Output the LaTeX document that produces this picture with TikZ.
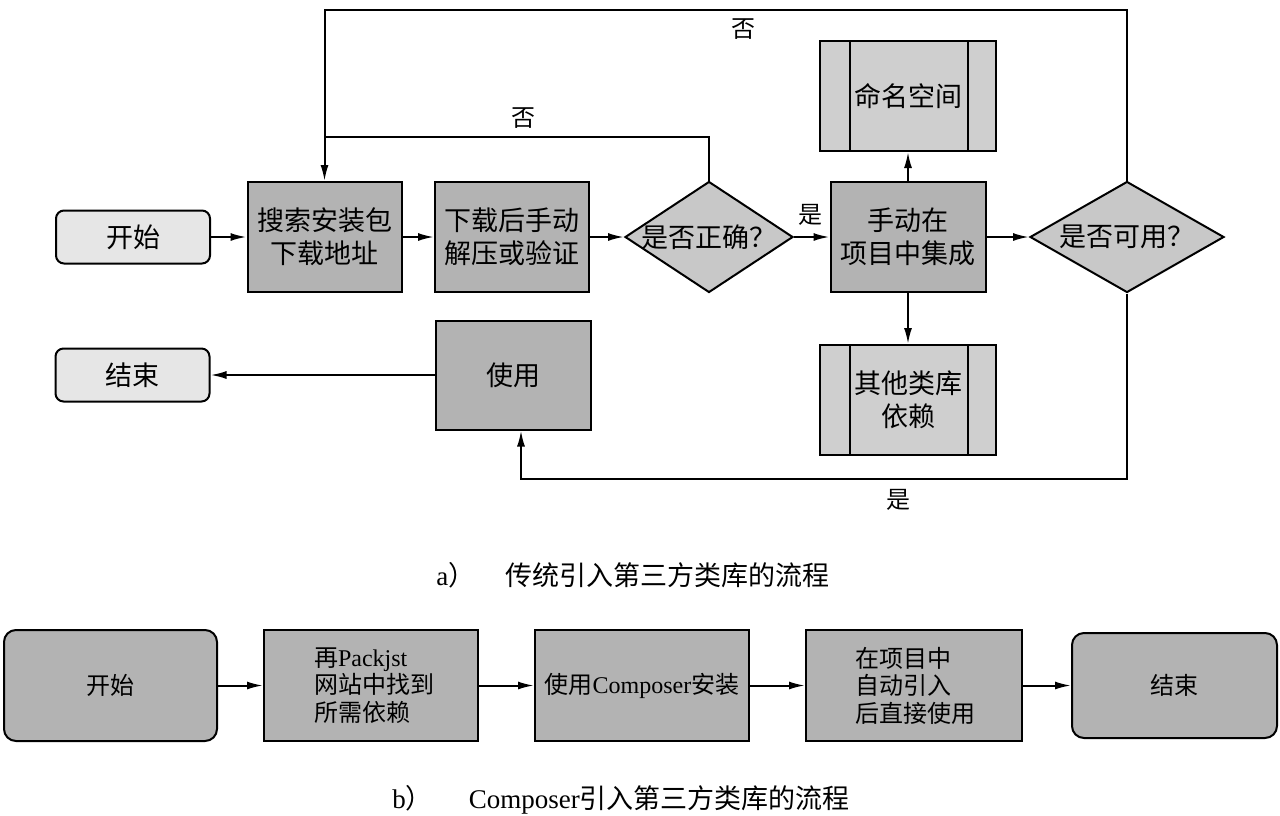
\documentclass[tikz,border=0pt]{standalone}
\usepackage{fontspec}
\setmainfont{Liberation Serif}
\newfontfamily\cjk{Noto Sans CJK SC}
\newfontfamily\lat{Liberation Serif}
\usetikzlibrary{shapes.geometric,arrows.meta}
\definecolor{termfill}{HTML}{E6E6E6}
\definecolor{procfill}{HTML}{B3B3B3}
\definecolor{decfill}{HTML}{C8C8C8}
\definecolor{subfill}{HTML}{CFCFCF}
\begin{document}
\begin{tikzpicture}[x=0.5pt,y=-0.5pt,
 every node/.style={inner sep=0pt},
 fa/.style={font=\fontsize{13.5}{16.5}\selectfont\cjk},
 fb/.style={font=\fontsize{12}{13.75}\selectfont\cjk},
 term/.style={draw,line width=1pt,fill=termfill,rounded corners=4pt,minimum width=77pt,minimum height=26.5pt,fa},
 proc/.style={draw,line width=1pt,fill=procfill,minimum width=77pt,minimum height=55pt,align=center,fa},
 subr/.style={draw,line width=1pt,fill=subfill,minimum width=88pt,minimum height=55pt,align=center,fa,
   path picture={\draw[line width=1pt]
     ([xshift=15pt]path picture bounding box.north west) -- ([xshift=15pt]path picture bounding box.south west)
     ([xshift=-14pt]path picture bounding box.north east) -- ([xshift=-14pt]path picture bounding box.south east);}},
 dec/.style={diamond,draw,line width=1pt,fill=decfill,aspect=1.5},
 bbox/.style={draw,line width=1pt,fill=procfill,minimum width=107pt,minimum height=55.5pt,align=center,fb},
 arr/.style={line width=1pt,-{Latex[length=8pt,width=4pt]}},
 ln/.style={line width=1pt},
 lab/.style={font=\fontsize{12}{14}\selectfont\cjk},
 captxt/.style={font=\fontsize{13.5}{16}\selectfont}
]
\useasboundingbox (0,0) rectangle (1280,815);

% ---- part a ----
\node[term] (st) at (133,237) {开始};
\node[proc] (srch) at (324.5,237) {搜索安装包\\下载地址};
\node[proc] (dl) at (512,237) {下载后手动\\解压或验证};
\node[dec,minimum width=84pt,minimum height=55.5pt,label={[fa]center:是否正确？}] (d1) at (709,237) {};
\node[proc,minimum width=77.5pt] (integ) at (908,237) {手动在\\项目中集成};
\node[subr] (ns) at (908,96) {命名空间};
\node[subr] (dep) at (908,400) {其他类库\\依赖};
\node[dec,minimum width=97pt,minimum height=55.5pt,label={[fa]center:是否可用？}] (d2) at (1127,237) {};
\node[proc,minimum width=77.5pt,minimum height=54.5pt] (use) at (513.5,375) {使用};
\node[term] (en) at (132.5,375) {结束};

\draw[arr] (st) -- (srch);
\draw[arr] (srch) -- (dl);
\draw[arr] (dl) -- (d1);
\draw[arr] (d1) -- (integ);
\node[lab] (yes1) at (810,215) {是};
\draw[arr] (integ) -- (ns);
\draw[arr] (integ) -- (dep);
\draw[arr] (integ) -- (d2);

\coordinate (tr) at (1127,10);
\coordinate (tl) at (324.5,10);
\draw[arr] (d2.north) -- (tr) -- (tl) -- (srch.north);
\node[lab] (no1) at (743,29) {否};

\coordinate (ml) at (324.5,137);
\draw[ln] (d1.north) -- (d1.north |- ml) -- (ml);
\node[lab] (no2) at (523,118) {否};

\coordinate (br) at (1127,479);
\coordinate (bl) at (521,479);
\draw[arr] (d2.south) -- (br) -- (bl) -- (bl |- use.south);
\node[lab] (yes2) at (898,500) {是};

\draw[arr] (use) -- (en);

\node[captxt,anchor=west] (capa) at (436,575) {a{\cjk ）}\hspace{15pt}{\cjk 传统引入第三方类库的流程}};

% ---- part b ----
\node[bbox,rounded corners=6pt,minimum width=106.5pt] (b1) at (110.5,685.5) {开始};
\node[bbox,text width=57pt,align=left] (b2) at (371,685.5) {再{\lat Packjst}\\网站中找到\\所需依赖};
\node[bbox] (b3) at (642,685.5) {使用{\lat Composer}安装};
\node[bbox,minimum width=108pt,text width=58.5pt,align=left] (b4) at (914,685.5) {在项目中\\自动引入\\后直接使用};
\node[bbox,rounded corners=6pt,minimum width=102.5pt,minimum height=52.5pt] (b5) at (1174.5,685.5) {结束};

\draw[arr] (b1) -- (b2);
\draw[arr] (b2) -- (b3);
\draw[arr] (b3) -- (b4);
\draw[arr] (b4) -- (b5);

\node[captxt,anchor=west] (capb) at (392,800) {b{\cjk ）}\hspace{18pt}Composer{\cjk 引入第三方类库的流程}};
\end{tikzpicture}
\end{document}
